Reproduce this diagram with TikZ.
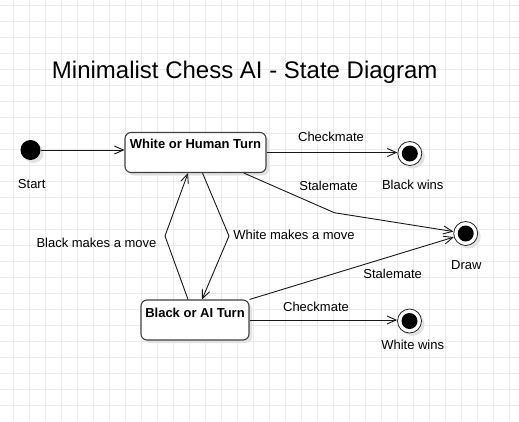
\documentclass[tikz,border=0pt]{standalone}
\usepackage{fontspec}
\setmainfont{Liberation Sans}
\usetikzlibrary{arrows.meta,shadows,calc}
\tikzset{
  gridline/.style={draw=black!8, line width=0.8pt},
  shade3/.style={general shadow={fill=black!11, shadow xshift=3pt, shadow yshift=-3pt}},
  statebox/.style={draw=black!75, fill=white, line width=1.1pt, rounded corners=6pt, shade3, inner sep=0pt},
  initstate/.style={circle, fill=black, minimum size=20pt, inner sep=0pt, shade3},
  finalstate/.style={circle, draw=black!85, fill=white, line width=0.8pt, minimum size=24pt, inner sep=0pt, shade3,
     path picture={\fill[black] (path picture bounding box.center) circle (8pt);}},
  lbl/.style={font=\fontsize{13}{15}\selectfont, anchor=base, inner sep=0pt},
  bold13/.style={font=\fontsize{13}{15}\selectfont\bfseries, anchor=base, inner sep=0pt},
  conn/.style={draw=black!90, line width=0.9pt, -{Straight Barb[length=9pt,width=8pt]}},
}
\begin{document}
\begin{tikzpicture}[x=1pt, y=-1pt]
\useasboundingbox (0,0) rectangle (519,421);
\fill[white] (0,0) rectangle (519,421);
\foreach \x in {13.3,29.3,...,510} \draw[gridline] (\x,0) -- (\x,421);
\foreach \y in {5.3,21.3,...,421} \draw[gridline] (0,\y) -- (519,\y);

\node[font=\fontsize{24}{28}\selectfont, anchor=base, inner sep=0pt] (title) at (244.7,78.3) {Minimalist Chess AI - State Diagram};

\node[initstate] (start) at (30.5,150) {};
\node[lbl] (startlbl) at (31.7,188) {Start};

\node[statebox, minimum width=141pt, minimum height=40pt,
      label={[bold13, yshift=-16.8pt]north:White or Human Turn}] (white) at (195.5,152.5) {};
\node[statebox, minimum width=108pt, minimum height=40pt,
      label={[bold13, yshift=-18.3pt]north:Black or AI Turn}] (black) at (195,320) {};

\node[finalstate] (bw) at (409.8,153.5) {};
\node[lbl] (bwlbl) at (412.7,189) {Black wins};
\node[finalstate] (dr) at (465.7,233.5) {};
\node[lbl] (drlbl) at (466.3,269) {Draw};
\node[finalstate] (ww) at (409.5,321) {};
\node[lbl] (wwlbl) at (412.7,349) {White wins};

\coordinate (b1) at (334.3,212.7);
\coordinate (lb) at (165,236);
\coordinate (rb) at (229,236);

\draw[conn] (start) -- (start -| white.west);
\draw[conn] (white.east) -- (white.east -| bw.west);
\draw[conn] ([xshift=-22.7pt]white.south east) -- (b1) -- (dr);
\draw[conn] (black.north east) -- (dr);
\draw[conn] (black.east) -- (black.east -| ww.west);
\draw[conn] ([xshift=-7pt]black.north) -- (lb) -- ([xshift=-7.5pt]white.south);
\draw[conn] ([xshift=7pt]white.south) -- (rb) -- ([xshift=7pt]black.north);

\node[lbl] (l1) at (331,141.3) {Checkmate};
\node[lbl] (l2) at (328.7,190.5) {Stalemate};
\node[lbl] (l3) at (294,239.3) {White makes a move};
\node[lbl] (l4) at (96.5,247.3) {Black makes a move};
\node[lbl] (l5) at (392.7,278) {Stalemate};
\node[lbl] (l6) at (316,311.3) {Checkmate};
\end{tikzpicture}
\end{document}
